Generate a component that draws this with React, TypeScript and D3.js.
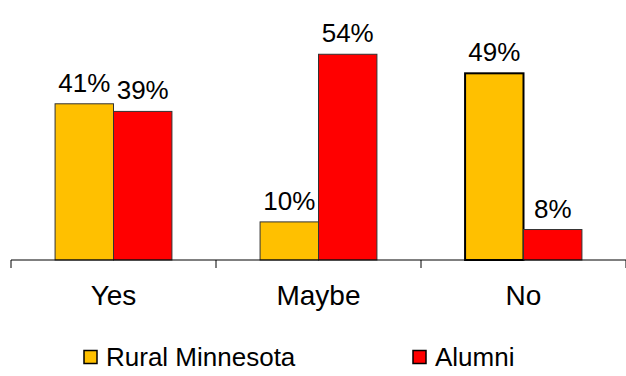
import React from "react";
import * as d3 from "d3";

const categories = ["Yes", "Maybe", "No"];
const seriesNames = ["Rural Minnesota", "Alumni"];
const ruralValues = [41, 10, 49];
const alumniValues = [39, 54, 8];
const colors = ["#FFC000", "#FF0000"];

const W = 626;
const H = 376;

export default function App() {
  const x = d3.scaleBand<string>().domain(categories).range([11, 626]).paddingInner(0.43).paddingOuter(0.215);
  const sub = d3.scaleBand<number>().domain([0, 1]).range([0, x.bandwidth()]);
  const y = d3.scaleLinear().domain([0, 60]).range([260, 260 - 3.81 * 60]);
  const series = [ruralValues, alumniValues];
  const step = x.step();
  const ticks = [0, 1, 2, 3].map((i) => 11 + i * step);
  const font = "'Liberation Sans', Arial, sans-serif";
  const legendX = [84, 413];

  return (
    <svg width={W} height={H} style={{ position: "absolute", left: 0, top: 0 }} fontFamily={font}>
      <rect width={W} height={H} fill="#fff" />
      {categories.map((c, ci) =>
        series.map((vals, si) => {
          const bx = (x(c) as number) + (sub(si) as number);
          const v = vals[ci];
          const emphasized = c === "No" && si === 0;
          return (
            <g key={c + si}>
              <rect
                x={bx}
                y={y(v)}
                width={sub.bandwidth()}
                height={y(0) - y(v)}
                fill={colors[si]}
                stroke={emphasized ? "#000" : "#333"}
                strokeWidth={emphasized ? 2 : 1}
              />
              <text x={bx + sub.bandwidth() / 2} y={y(v) - 12} textAnchor="middle" fontSize={26} fill="#000">
                {v}%
              </text>
            </g>
          );
        })
      )}
      <line x1={11} x2={626} y1={260} y2={260} stroke="#000" strokeWidth={1} />
      {ticks.map((t, i) => (
        <line key={i} x1={t} x2={t} y1={260} y2={268} stroke="#000" strokeWidth={1} />
      ))}
      {categories.map((c) => (
        <text key={c} x={(x(c) as number) + x.bandwidth() / 2} y={305} textAnchor="middle" fontSize={28} fill="#000">
          {c}
        </text>
      ))}
      {seriesNames.map((n, i) => {
        const lx = legendX[i];
        return (
          <g key={n}>
            <rect x={lx} y={350.5} width={13} height={13} fill={colors[i]} stroke="#000" strokeWidth={1.5} />
            <text x={lx + 22} y={366} fontSize={26} fill="#000">
              {n}
            </text>
          </g>
        );
      })}
    </svg>
  );
}
